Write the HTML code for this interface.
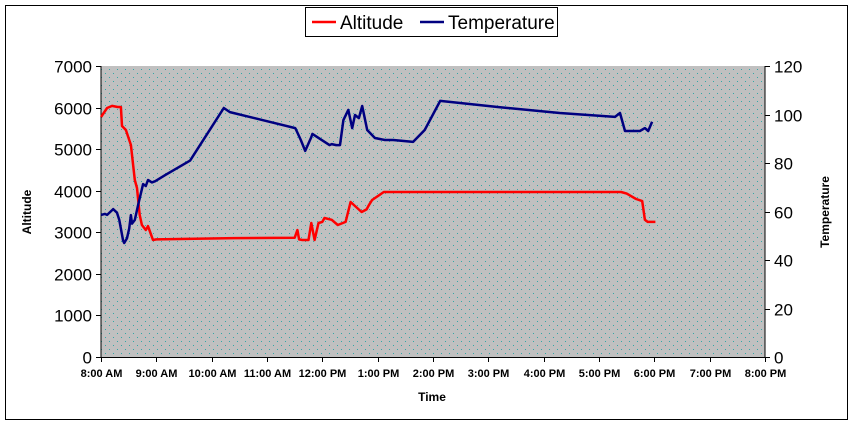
<!DOCTYPE html>
<html><head><meta charset="utf-8"><style>
body{margin:0;background:#fff;}
svg{display:block;font-family:"Liberation Sans",Arial,sans-serif;}
</style></head><body>
<svg id="chart" width="854" height="425">
<defs><pattern id="dots" width="8" height="8" patternUnits="userSpaceOnUse"><rect width="8" height="8" fill="#c0c0c0"/><rect x="1" y="1" width="1" height="1" fill="#33a6a6"/><rect x="5" y="5" width="1" height="1" fill="#33a6a6"/></pattern></defs>
<rect x="5.5" y="5.5" width="842" height="414" fill="#fff" stroke="#000"/>
<rect x="101" y="66" width="664" height="291" fill="url(#dots)"/>
<g id="axes"></g>
<g id="series"></g>
<g>
<rect x="305.5" y="7.5" width="252" height="29" fill="#fff" stroke="#000"/>
<line x1="312" y1="22" x2="336" y2="22" stroke="#ff0000" stroke-width="2.5"/>
<text x="340" y="29" font-size="19">Altitude</text>
<line x1="420" y1="22" x2="444" y2="22" stroke="#000080" stroke-width="2.5"/>
<text x="448" y="29" font-size="19">Temperature</text>
</g>
<text x="432" y="401" font-size="12" font-weight="bold" text-anchor="middle">Time</text>
<text transform="translate(31,212) rotate(-90)" font-size="12" font-weight="bold" text-anchor="middle">Altitude</text>
<text transform="translate(829,212) rotate(-90)" font-size="12" font-weight="bold" text-anchor="middle">Temperature</text>
</svg>
<script>
const xTickLabels=["8:00 AM","9:00 AM","10:00 AM","11:00 AM","12:00 PM","1:00 PM","2:00 PM","3:00 PM","4:00 PM","5:00 PM","6:00 PM","7:00 PM","8:00 PM"];
const leftTicks=[0,1000,2000,3000,4000,5000,6000,7000];
const rightTicks=[0,20,40,60,80,100,120];
// hours since 8:00 AM
const altHours=[0,0.11,0.2,0.3,0.36,0.38,0.45,0.54,0.61,0.65,0.7,0.74,0.81,0.85,0.9,0.94,1.0,2.4,3.5,3.55,3.58,3.64,3.75,3.8,3.86,3.93,4.0,4.04,4.17,4.28,4.42,4.51,4.71,4.8,4.84,4.9,5.11,5.32,9.4,9.5,9.67,9.78,9.83,9.88,10.02];
const altValues=[5773,5990,6040,6014,6014,5557,5460,5100,4258,4065,3416,3175,3055,3150,2960,2815,2830,2860,2870,3055,2830,2815,2815,3223,2815,3223,3250,3344,3300,3175,3250,3729,3488,3550,3650,3777,3970,3970,3970,3930,3800,3750,3300,3250,3250];
const tempHours=[0,0.07,0.11,0.22,0.29,0.33,0.4,0.42,0.47,0.51,0.54,0.56,0.61,0.67,0.76,0.81,0.85,0.92,0.98,1.16,1.61,2.22,2.33,3.51,3.52,3.61,3.69,3.8,3.82,4.13,4.17,4.25,4.32,4.38,4.47,4.54,4.59,4.66,4.72,4.81,4.95,5.13,5.28,5.64,5.85,6.13,7.21,8.29,9.29,9.38,9.47,9.74,9.83,9.89,9.96];
const tempValues=[58.6,59,58.6,61,59.5,56.5,48,47,49,53,58.5,55,56.5,62.7,71.3,70.5,73,72,72.5,75,81,102.7,101,94.4,94,89.5,85,90.7,92,87.4,87.8,87.4,87.4,97.7,101.9,94.4,99.8,98.5,103.5,93.6,90.3,89.5,89.5,88.7,93.6,105.6,103,100.6,99,100.6,93.2,93.2,94.4,93.2,97];
const X0=101,X1=765,Y0=357,Y1=66;
const xs=h=>X0+h*(X1-X0)/12;
const yL=v=>Y0-v*(Y0-Y1)/7000;
const yR=v=>Y0-v*(Y0-Y1)/120;
const NS="http://www.w3.org/2000/svg";
const axes=document.getElementById("axes"),series=document.getElementById("series");
function mk(tag,attrs,parent){const e=document.createElementNS(NS,tag);for(const k in attrs)e.setAttribute(k,attrs[k]);parent.appendChild(e);return e;}
let e;
e=mk("line",{x1:X0,y1:Y1,x2:X0,y2:Y0,stroke:"#000"},axes);


e=mk("line",{x1:X1,y1:Y1,x2:X1,y2:Y0,stroke:"#000"},axes);


e=mk("line",{x1:X0,y1:Y0+0.5,x2:X1,y2:Y0+0.5,stroke:"#000"},axes);


leftTicks.forEach(v=>{const y=Math.round(yL(v))+0.5;mk("line",{x1:X0-5,y1:y,x2:X0,y2:y,stroke:"#000"},axes);
const t=mk("text",{x:X0-9,y:y+6,"font-size":"17","text-anchor":"end"},axes);t.textContent=v;

});
rightTicks.forEach(v=>{const y=Math.round(yR(v))+0.5;mk("line",{x1:X1,y1:y,x2:X1+5,y2:y,stroke:"#000"},axes);
const t=mk("text",{x:X1+9,y:y+6,"font-size":"17"},axes);t.textContent=v;

});
xTickLabels.forEach((s,i)=>{const x=Math.round(xs(i))+0.5;mk("line",{x1:x,y1:Y0,x2:x,y2:Y0+5,stroke:"#000"},axes);
const t=mk("text",{x:x,y:Y0+20,"font-size":"11","font-weight":"bold","text-anchor":"middle"},axes);t.textContent=s;

});
const pa=altHours.map((h,i)=>xs(h).toFixed(1)+","+yL(altValues[i]).toFixed(1)).join(" ");
e=mk("polyline",{points:pa,fill:"none",stroke:"#ff0000","stroke-width":"2.5","stroke-linejoin":"round"},series);


const pt=tempHours.map((h,i)=>xs(h).toFixed(1)+","+yR(tempValues[i]).toFixed(1)).join(" ");
e=mk("polyline",{points:pt,fill:"none",stroke:"#000080","stroke-width":"2.5","stroke-linejoin":"round"},series);


</script>
</body></html>
